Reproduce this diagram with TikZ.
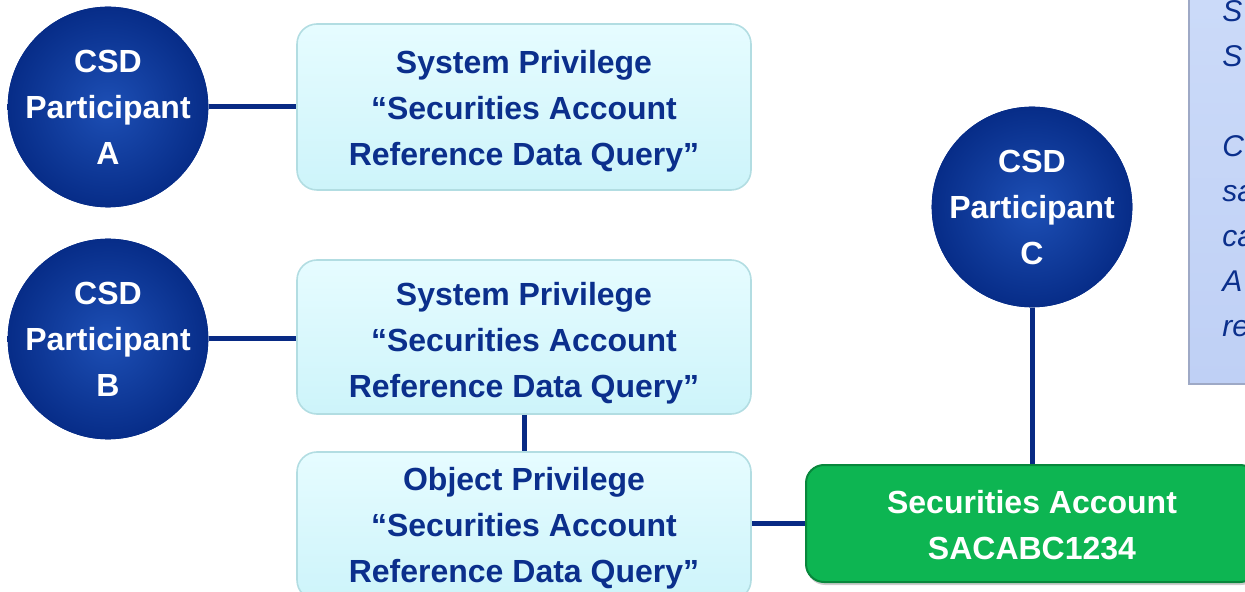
\documentclass[tikz,border=0pt]{standalone}
\usepackage{fontspec}
\setmainfont{Liberation Sans}
\usetikzlibrary{shadows}
\definecolor{navy}{HTML}{0B2F8C}
\definecolor{linec}{HTML}{082A84}
\definecolor{ballin}{HTML}{1D4FB5}
\definecolor{ballout}{HTML}{062B86}
\definecolor{privtop}{HTML}{E6FCFF}
\definecolor{privbot}{HTML}{CDF4FA}
\definecolor{privedge}{HTML}{B2DDE2}
\definecolor{greenf}{HTML}{0DB552}
\definecolor{greend}{HTML}{08873C}
\definecolor{notetop}{HTML}{CCDBF9}
\definecolor{notebot}{HTML}{BFD0F5}
\definecolor{noteedge}{HTML}{9EA9C6}
\newcommand\mytopstrut[1]{\rule{0pt}{#1}}
\tikzset{
  lbl/.style={font=\bfseries\fontsize{16}{23}\selectfont, align=center},
  participant/.style={circle, minimum size=98pt, inner sep=0pt, fill=ballout,
    path picture={\shade[inner color=ballin, outer color=ballout]
      (path picture bounding box.center) circle (52pt);},
    text=white, lbl},
  privbox/.style={rounded corners=10pt, draw=privedge, line width=0.8pt, top color=privtop, bottom color=privbot,
    minimum width=227pt, text=navy, lbl, inner sep=0pt},
  account/.style={rounded corners=9pt, draw=greend, line width=1pt, fill=greenf, text=white, lbl,
    minimum width=226pt, minimum height=58.5pt, inner sep=0pt,
    drop shadow={shadow xshift=0.5pt, shadow yshift=-1.5pt, opacity=0.4}},
  notebox/.style={draw=noteedge, line width=1pt, top color=notetop, bottom color=notebot,
    minimum width=60pt, minimum height=206.5pt, inner sep=0pt},
  notetxt/.style={font=\itshape\fontsize{15}{22.5}\selectfont, text=navy, align=left, inner sep=0pt},
  conn/.style={draw=linec, line width=2.5pt}
}
\begin{document}
\begin{tikzpicture}[x=0.5pt, y=-0.5pt]
\useasboundingbox (0,0) rectangle (1245,592);
\clip (0,0) rectangle (1245,592);
% note box at right (clipped)
\node[notebox, anchor=north west] (note) at (1188,-30) {};
\node[notetxt, anchor=north west] (notetext) at (1222,0) {S\\S\\[22.5pt]C\\sa\\ca\\A\\re};
% participants
\node[participant] (pa) at (108,107) {CSD\\Participant\\A};
\node[participant] (pb) at (108,339) {CSD\\Participant\\B};
\node[participant] (pc) at (1032,207) {CSD\\Participant\\C};
% privilege boxes
\node[privbox, minimum height=83pt] (sp1) at (524,107) {\mytopstrut{15.5pt}System Privilege\\“Securities Account\\Reference Data Query”};
\node[privbox, minimum height=77pt] (sp2) at (524,337) {\mytopstrut{17.5pt}System Privilege\\“Securities Account\\Reference Data Query”};
\node[privbox, minimum height=74pt] (op) at (524,526) {\mytopstrut{14pt}Object Privilege\\“Securities Account\\Reference Data Query”};
% securities account
\node[account] (acc) at (1032,523.5) {\mytopstrut{13.5pt}Securities Account\\SACABC1234};
% connectors
\draw[conn] (pa.east) -- (sp1.west |- pa.east);
\draw[conn] (pb.east) -- (sp2.west |- pb.east);
\draw[conn] (sp2.south) -- (op.north);
\draw[conn] (op.east |- acc.west) -- (acc.west);
\draw[conn] (pc.south) -- (acc.north);
\end{tikzpicture}
\end{document}
